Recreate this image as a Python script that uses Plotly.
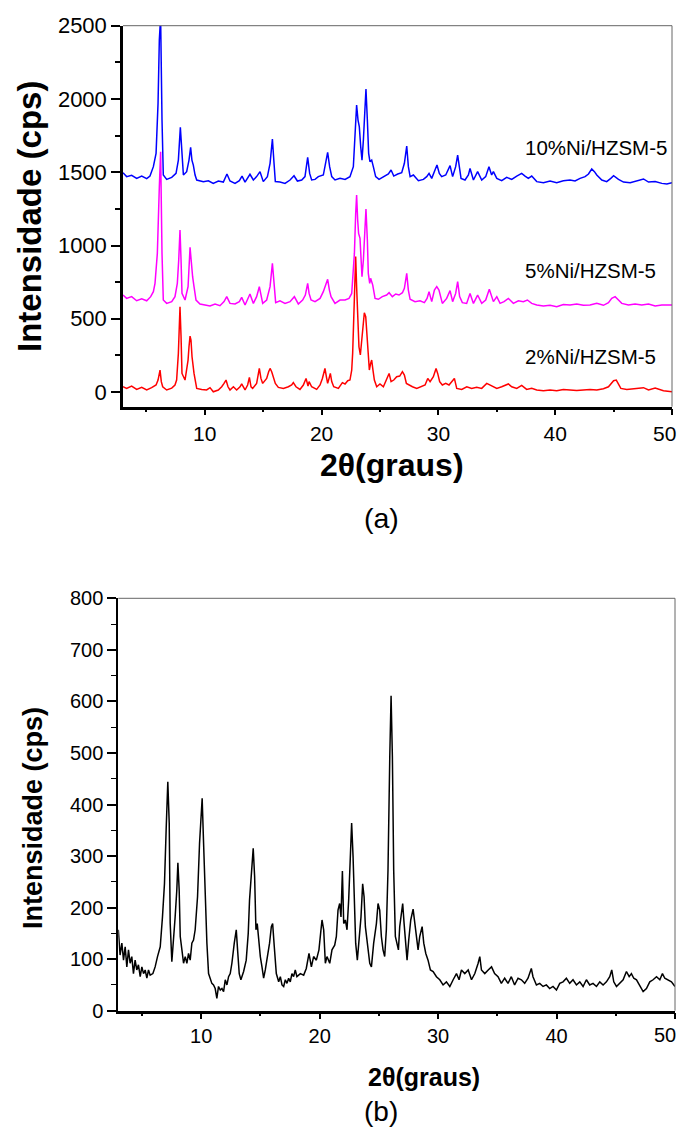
import plotly.graph_objects as go

# page is 686x1139; the HTML body has an 8px margin, so the figure itself is 16px smaller
PAGE_W, PAGE_H = 686, 1139
OFF = 8
W, H = PAGE_W - 2 * OFF, PAGE_H - 2 * OFF
FONT = "Liberation Sans, Arial, sans-serif"

# ---------------- Panel (a) data ----------------
x_10ni = [3.00, 3.31, 3.74, 4.17, 4.60, 5.03, 5.31, 5.60, 5.83, 6.00, 6.11, 6.22, 6.34, 6.45, 6.74, 7.17, 7.54, 7.74,
          7.91, 8.05, 8.17, 8.45, 8.65, 8.79, 8.90, 9.02, 9.17, 9.31, 9.88, 10.31, 10.73, 11.16, 11.59, 11.90, 12.16,
          12.59, 12.96, 13.19, 13.45, 13.87, 14.16, 14.44, 14.73, 15.01, 15.36, 15.59, 15.79, 15.93, 16.04, 16.44,
          16.87, 17.30, 17.64, 17.93, 18.30, 18.58, 18.81, 18.98, 19.15, 19.44, 19.72, 20.15, 20.35, 20.52, 20.69,
          20.87, 21.15, 21.58, 22.01, 22.43, 22.72, 22.86, 23.00, 23.12, 23.23, 23.35, 23.46, 23.58, 23.69, 23.80,
          23.92, 24.03, 24.14, 24.29, 24.43, 24.63, 24.92, 25.29, 25.72, 25.95, 26.18, 26.52, 26.86, 27.09, 27.29,
          27.43, 27.58, 27.86, 28.29, 28.72, 29.00, 29.20, 29.43, 29.71, 29.88, 30.08, 30.28, 30.63, 30.85, 31.00,
          31.22, 31.48, 31.65, 31.80, 31.94, 32.28, 32.57, 32.71, 33.00, 33.36, 33.71, 34.05, 34.33, 34.56, 34.71,
          35.00, 35.42, 35.85, 36.28, 36.71, 37.13, 37.42, 37.70, 37.99, 38.42, 38.99, 39.56, 40.13, 40.70, 41.27,
          41.70, 42.13, 42.56, 42.85, 43.13, 43.36, 43.56, 43.99, 44.41, 44.76, 45.00, 45.42, 45.85, 46.42, 46.99,
          47.56, 47.99, 48.56, 49.13, 49.56, 50.00]
y_10ni = [1497, 1470, 1479, 1458, 1474, 1456, 1474, 1538, 1629, 1970, 2402, 2560, 1856, 1481, 1451, 1465, 1492, 1583,
          1806, 1583, 1481, 1504, 1583, 1670, 1583, 1549, 1481, 1447, 1436, 1442, 1424, 1440, 1433, 1488, 1440,
          1424, 1442, 1474, 1433, 1486, 1447, 1470, 1504, 1436, 1470, 1561, 1727, 1561, 1436, 1433,
          1424, 1447, 1476, 1440, 1447, 1470, 1602, 1492, 1447, 1451, 1470, 1481, 1561, 1636, 1538,
          1470, 1447, 1458, 1451, 1470, 1538, 1788, 1959, 1856, 1811, 1674, 1583, 1720, 1947, 2068,
          1856, 1629, 1572, 1583, 1538, 1470, 1451, 1470, 1488, 1515, 1474, 1488, 1497, 1561, 1679,
          1538, 1470, 1481, 1442, 1451, 1470, 1492, 1458, 1515, 1549, 1492, 1470, 1481, 1526, 1545,
          1470, 1538, 1617, 1515, 1458, 1447, 1481, 1526, 1447, 1504, 1447, 1470, 1538, 1481, 1504,
          1458, 1442, 1465, 1451, 1474, 1492, 1474, 1458, 1474, 1436, 1429, 1440, 1429, 1442, 1447,
          1440, 1458, 1470, 1488, 1522, 1504, 1481, 1447, 1436, 1458, 1476, 1451, 1433, 1429, 1440,
          1454, 1433, 1436, 1424, 1420, 1429]

x_5ni = [3.00, 3.31, 3.74, 4.17, 4.60, 5.03, 5.37, 5.60, 5.74, 5.94, 6.11, 6.22, 6.34, 6.45, 6.74, 7.17, 7.45, 7.65,
         7.77, 7.88, 7.97, 8.05, 8.31, 8.57, 8.74, 8.85, 8.96, 9.08, 9.25, 9.59, 10.02, 10.45, 10.88, 11.30, 11.65,
         11.88, 12.16, 12.59, 12.96, 13.16, 13.45, 13.73, 13.87, 14.16, 14.44, 14.67, 14.96, 15.30, 15.59, 15.79,
         15.93, 16.07, 16.44, 16.87, 17.30, 17.67, 18.01, 18.38, 18.61, 18.81, 18.93, 19.10, 19.44, 19.87, 20.15,
         20.35, 20.52, 20.67, 20.81, 21.15, 21.58, 22.01, 22.35, 22.58, 22.81, 22.92, 23.00, 23.09, 23.17, 23.29,
         23.37, 23.46, 23.58, 23.69, 23.80, 23.92, 24.00, 24.12, 24.20, 24.38, 24.58, 24.86, 25.20, 25.57, 25.78,
         26.06, 26.35, 26.63, 26.92, 27.09, 27.29, 27.43, 27.58, 28.00, 28.43, 28.80, 29.03, 29.20, 29.43, 29.66,
         29.86, 30.05, 30.34, 30.71, 31.00, 31.22, 31.48, 31.65, 31.82, 32.05, 32.42, 32.71, 33.00, 33.36, 33.71,
         34.05, 34.36, 34.71, 35.00, 35.28, 35.62, 35.99, 36.42, 36.85, 37.27, 37.62, 37.99, 38.42, 38.99, 39.56,
         40.13, 40.70, 41.27, 41.84, 42.41, 42.98, 43.56, 44.13, 44.56, 44.84, 45.13, 45.42, 45.70, 46.27, 46.84,
         47.41, 47.99, 48.56, 49.13, 50.00]
y_5ni = [662, 639, 651, 623, 637, 623, 651, 685, 742, 946, 1401, 1640, 946, 628, 605, 617, 651, 742,
         901, 1106, 901, 673, 628, 719, 987, 855, 787, 719, 628, 601, 594, 587, 601, 589, 617,
         651, 605, 601, 617, 646, 594, 639, 669, 605, 651, 719, 605, 628, 719, 878,
         742, 610, 623, 605, 617, 651, 601, 628, 662, 742, 673, 628, 617, 639, 685,
         730, 769, 696, 651, 605, 628, 628, 639, 673, 946, 1219, 1344, 1174, 1083, 1049,
         878, 787, 901, 1128, 1249, 1037, 810, 742, 776, 730, 639, 633, 651, 662, 678,
         651, 669, 662, 678, 708, 810, 696, 633, 617, 623, 610, 639, 685, 617, 696,
         719, 696, 605, 639, 692, 617, 673, 753, 651, 610, 605, 673, 605, 662, 605,
         628, 701, 617, 651, 605, 617, 639, 605, 623, 617, 628, 605, 594, 587, 592,
         582, 598, 594, 601, 592, 594, 605, 592, 610, 639, 651, 628, 605, 594, 601,
         594, 601, 587, 594, 594]

x_2ni = [3.00, 3.31, 3.74, 4.17, 4.60, 5.03, 5.45, 5.83, 6.00, 6.17, 6.28, 6.40, 6.74, 7.17, 7.45, 7.59, 7.74, 7.82,
         7.88, 7.97, 8.05, 8.31, 8.57, 8.65, 8.74, 8.82, 8.91, 9.08, 9.31, 9.74, 10.16, 10.45, 10.73, 11.16, 11.45,
         11.65, 11.82, 11.99, 12.16, 12.45, 12.73, 13.02, 13.16, 13.45, 13.67, 13.82, 13.96, 14.10, 14.44, 14.67,
         14.81, 14.96, 15.30, 15.47, 15.59, 15.73, 15.87, 16.04, 16.30, 16.73, 17.16, 17.44, 17.58, 17.81, 18.15,
         18.44, 18.67, 18.84, 18.93, 19.15, 19.58, 19.87, 20.07, 20.21, 20.29, 20.41, 20.52, 20.64, 20.75, 20.87,
         21.04, 21.44, 21.78, 22.01, 22.24, 22.43, 22.58, 22.66, 22.75, 22.83, 22.92, 23.00, 23.09, 23.20, 23.32,
         23.43, 23.55, 23.66, 23.78, 23.89, 24.00, 24.09, 24.20, 24.29, 24.40, 24.52, 24.72, 25.00, 25.29, 25.57,
         25.78, 25.95, 26.18, 26.43, 26.69, 26.92, 27.09, 27.26, 27.49, 27.78, 28.15, 28.52, 28.86, 29.09, 29.29,
         29.57, 29.80, 29.94, 30.11, 30.34, 30.63, 30.91, 31.19, 31.37, 31.57, 32.00, 32.43, 32.85, 33.28, 33.71,
         34.14, 34.42, 34.79, 35.00, 35.42, 35.71, 35.99, 36.28, 36.71, 37.13, 37.56, 37.99, 38.42, 38.99, 39.56,
         40.13, 40.70, 41.27, 41.84, 42.41, 42.98, 43.56, 44.13, 44.56, 44.79, 45.00, 45.23, 45.42, 45.62, 46.13,
         46.70, 47.13, 47.56, 47.99, 48.56, 49.27, 50.00]
y_2ni = [36, 25, 41, 18, 32, 14, 30, 48, 82, 150, 71, 36, 14, 27, 48, 82, 264, 491,
         582, 378, 127, 82, 218, 309, 382, 355, 241, 127, 25, 18, 14, 30, 2, 14, 36,
         59, 82, 36, 14, 36, 14, 36, 55, 14, 48, 100, 36, 25, 59, 161,
         93, 59, 93, 139, 161, 139, 105, 59, 32, 25, 36, 48, 64, 36, 18,
         48, 93, 41, 71, 36, 18, 48, 93, 139, 161, 105, 59, 93, 127, 71,
         36, 25, 64, 55, 77, 82, 150, 264, 491, 810, 924, 719, 491, 309, 253,
         355, 491, 541, 514, 378, 218, 150, 196, 218, 150, 82, 36, 55, 36, 93,
         127, 71, 82, 105, 109, 139, 116, 59, 48, 36, 25, 36, 48, 93, 71,
         105, 161, 127, 71, 48, 59, 48, 71, 93, 25, 18, 36, 25, 32, 25,
         59, 48, 36, 25, 36, 48, 55, 36, 25, 45, 18, 25, 14, 9, 14,
         9, 18, 14, 11, 14, 18, 14, 23, 36, 59, 77, 82, 55, 25, 18,
         23, 25, 30, 14, 27, 9, 2]

labels_a = ["10%Ni/HZSM-5", "5%Ni/HZSM-5", "2%Ni/HZSM-5"]

# ---------------- Panel (b) data ----------------
x_b = [3.00, 3.15, 3.30, 3.44, 3.58, 3.72, 3.86, 4.00, 4.14, 4.28, 4.42, 4.56, 4.70, 4.85, 4.99, 5.13, 5.27, 5.41,
       5.55, 5.69, 5.92, 6.11, 6.31, 6.54, 6.73, 6.90, 7.04, 7.18, 7.30, 7.38, 7.52, 7.66, 7.80, 7.94, 8.03, 8.14,
       8.23, 8.37, 8.51, 8.65, 8.79, 8.93, 9.07, 9.21, 9.35, 9.49, 9.69, 9.86, 9.97, 10.08, 10.20, 10.34, 10.48,
       10.62, 10.76, 10.90, 11.04, 11.18, 11.32, 11.46, 11.61, 11.75, 11.89, 12.03, 12.17, 12.31, 12.45, 12.59,
       12.79, 12.96, 13.07, 13.21, 13.35, 13.58, 13.80, 13.97, 14.08, 14.20, 14.31, 14.39, 14.51, 14.62, 14.73,
       14.85, 14.99, 15.13, 15.27, 15.41, 15.55, 15.77, 15.92, 16.03, 16.17, 16.34, 16.54, 16.68, 16.82, 16.96,
       17.10, 17.24, 17.38, 17.52, 17.66, 17.80, 17.94, 18.08, 18.37, 18.65, 18.87, 19.10, 19.30, 19.49, 19.72,
       19.94, 20.08, 20.20, 20.34, 20.48, 20.62, 20.85, 21.04, 21.27, 21.41, 21.55, 21.69, 21.80, 21.92, 22.03,
       22.17, 22.31, 22.45, 22.59, 22.70, 22.82, 22.93, 23.04, 23.18, 23.32, 23.49, 23.63, 23.75, 23.86, 24.03,
       24.23, 24.37, 24.56, 24.79, 24.93, 25.07, 25.21, 25.35, 25.49, 25.63, 25.77, 25.92, 26.03, 26.14, 26.25,
       26.39, 26.54, 26.65, 26.76, 26.90, 27.01, 27.13, 27.27, 27.38, 27.52, 27.69, 27.89, 28.03, 28.17, 28.31,
       28.45, 28.65, 28.79, 28.96, 29.15, 29.35, 29.58, 29.86, 30.14, 30.42, 30.70, 30.99, 31.27, 31.55, 31.77,
       31.97, 32.25, 32.54, 32.82, 33.10, 33.38, 33.52, 33.66, 33.94, 34.23, 34.51, 34.77, 35.06, 35.34, 35.62,
       35.90, 36.18, 36.46, 36.75, 37.03, 37.31, 37.59, 37.87, 38.01, 38.30, 38.58, 38.86, 39.14, 39.42, 39.70,
       39.99, 40.27, 40.55, 40.83, 41.11, 41.39, 41.68, 41.96, 42.24, 42.52, 42.80, 43.08, 43.37, 43.65, 43.93,
       44.21, 44.49, 44.66, 44.83, 45.06, 45.34, 45.62, 45.90, 46.13, 46.32, 46.52, 46.75, 47.03, 47.31, 47.59,
       47.87, 48.15, 48.44, 48.72, 48.94, 49.14, 49.42, 49.70, 50.00]
y_b = [157, 108, 131, 98, 124, 85, 118, 92, 105, 72, 98, 79, 89, 66, 85, 72, 79, 63,
       79, 69, 72, 85, 105, 124, 182, 247, 351, 444, 364, 170, 95, 131, 182, 234, 287, 234,
       144, 118, 92, 105, 92, 111, 98, 131, 137, 157, 221, 325, 376, 412, 325, 215, 131,
       72, 63, 53, 50, 43, 24, 47, 40, 43, 37, 60, 50, 66, 72, 92,
       131, 157, 118, 72, 60, 76, 98, 150, 215, 260, 299, 315, 260, 157, 169,
       137, 105, 85, 63, 79, 98, 131, 163, 169, 124, 72, 56, 66, 50, 47,
       60, 53, 63, 56, 72, 66, 79, 66, 72, 69, 82, 111, 85, 105, 98,
       118, 150, 176, 157, 92, 105, 92, 118, 127, 144, 195, 208, 182, 271, 169,
       176, 157, 215, 299, 364, 299, 202, 131, 98, 131, 182, 246, 221, 163, 131,
       92, 85, 131, 169, 208, 195, 144, 118, 105, 157, 273, 493, 611, 493, 273,
       144, 131, 118, 163, 195, 208, 169, 118, 98, 137, 176, 197, 169, 137, 118,
       144, 163, 131, 111, 98, 79, 76, 66, 60, 50, 56, 47, 60, 72, 60,
       79, 72, 79, 60, 72, 92, 105, 79, 72, 79, 85, 72, 66, 53, 63,
       53, 66, 50, 63, 60, 53, 63, 82, 66, 50, 53, 47, 50, 43, 47,
       40, 53, 56, 63, 53, 60, 50, 56, 47, 60, 50, 53, 47, 56, 50,
       56, 66, 79, 56, 47, 53, 60, 76, 66, 72, 63, 60, 47, 37, 43,
       56, 60, 66, 60, 72, 63, 60, 56, 47]

x_ticks = [10, 20, 30, 40, 50]
y_ticks_a = [0, 500, 1000, 1500, 2000, 2500]
y_ticks_b = [0, 100, 200, 300, 400, 500, 600, 700, 800]


def px(xp):
    """screen x pixel -> paper fraction"""
    return (xp - OFF) / W


def py(yp):
    """screen y pixel -> paper fraction"""
    return 1 - (yp - OFF) / H


fig = go.Figure()
fig.add_trace(go.Scatter(x=x_2ni, y=y_2ni, mode="lines", line=dict(color="#FF0000", width=1.5),
                         xaxis="x", yaxis="y", showlegend=False))
fig.add_trace(go.Scatter(x=x_5ni, y=y_5ni, mode="lines", line=dict(color="#FF00FF", width=1.5),
                         xaxis="x", yaxis="y", showlegend=False))
fig.add_trace(go.Scatter(x=x_10ni, y=y_10ni, mode="lines", line=dict(color="#0000FF", width=1.5),
                         xaxis="x", yaxis="y", showlegend=False))
fig.add_trace(go.Scatter(x=x_b, y=y_b, mode="lines", line=dict(color="#000000", width=1.5),
                         xaxis="x2", yaxis="y2", showlegend=False))

# the last x tick label ("50") would be cut by the page edge: draw it as a right-aligned annotation
x_ticktext = [str(v) for v in x_ticks[:-1]] + [""]

common_x = dict(showgrid=False, zeroline=False, showline=True, linecolor="black", linewidth=2.5,
                ticks="outside", tickcolor="black", tickwidth=2, ticklen=6, automargin=False,
                tickvals=x_ticks, ticktext=x_ticktext,
                minor=dict(dtick=5, tick0=0, ticks="outside", ticklen=3, tickwidth=1.5, tickcolor="black",
                           showgrid=False))

fig.update_layout(
    width=W, height=H, margin=dict(l=0, r=0, t=0, b=0),
    paper_bgcolor="white", plot_bgcolor="white",
    font=dict(family=FONT, color="black"),
    xaxis=dict(common_x, domain=[px(123), px(672)], range=[3, 50], anchor="y",
               tickfont=dict(size=21, family=FONT, color="black")),
    yaxis=dict(domain=[py(406.7), py(25.7)], range=[-100, 2500], anchor="x", automargin=False,
               showgrid=False, zeroline=False, showline=True, linecolor="black", linewidth=2.5,
               ticks="outside", tickcolor="black", tickwidth=2, ticklen=9,
               tickvals=y_ticks_a, ticktext=[str(v) for v in y_ticks_a],
               minor=dict(dtick=250, tick0=0, ticks="outside", ticklen=5, tickwidth=1.5, tickcolor="black",
                          showgrid=False),
               tickfont=dict(size=22, family=FONT, color="black")),
    xaxis2=dict(common_x, domain=[px(118.3), px(675)], range=[3, 50], anchor="y2",
                tickfont=dict(size=20, family=FONT, color="black")),
    yaxis2=dict(domain=[py(1010.7), py(598.3)], range=[0, 800], anchor="x2", automargin=False,
                showgrid=False, zeroline=False, showline=True, linecolor="black", linewidth=2,
                ticks="outside", tickcolor="black", tickwidth=1.5, ticklen=9,
                tickvals=y_ticks_b, ticktext=[str(v) for v in y_ticks_b],
                minor=dict(dtick=50, tick0=0, ticks="outside", ticklen=5, tickwidth=1.2, tickcolor="black",
                           showgrid=False),
                tickfont=dict(size=20, family=FONT, color="black")),
)

# thin frame lines (top & right)
for xr, yr in (("x", "y"), ("x2", "y2")):
    fig.add_shape(type="line", xref=f"{xr} domain", yref=f"{yr} domain", x0=0, x1=1, y0=1, y1=1,
                  line=dict(color="#666666", width=1))
    fig.add_shape(type="line", xref=f"{xr} domain", yref=f"{yr} domain", x0=1, x1=1, y0=0, y1=1,
                  line=dict(color="#666666", width=1))

ann = []
# panel (a)
ann.append(dict(x=px(29), y=py(217), text="<b>Intensidade (cps)</b>", textangle=-90,
                font=dict(size=33, family=FONT, color="black")))
ann.append(dict(x=px(392), y=py(465), text="<b>2θ(graus)</b>", font=dict(size=32, family=FONT, color="black")))
ann.append(dict(x=px(381), y=py(518), text="(a)", font=dict(size=28.5, family=FONT, color="black")))
for lbl, yc in zip(labels_a, (147, 271, 356)):
    ann.append(dict(x=px(523), y=py(yc), text=lbl, xanchor="left",
                    font=dict(size=20.5, family=FONT, color="black")))
ann.append(dict(x=1.0, y=py(433), text=str(x_ticks[-1]), xanchor="right",
                font=dict(size=21, family=FONT, color="black")))
# panel (b)
ann.append(dict(x=px(33), y=py(818), text="<b>Intensidade (cps)</b>", textangle=-90,
                font=dict(size=27, family=FONT, color="black")))
ann.append(dict(x=px(424), y=py(1077), text="<b>2θ(graus)</b>", font=dict(size=25, family=FONT, color="black")))
ann.append(dict(x=px(381), y=py(1111), text="(b)", font=dict(size=28, family=FONT, color="black")))
ann.append(dict(x=1.0, y=py(1035), text=str(x_ticks[-1]), xanchor="right",
                font=dict(size=20, family=FONT, color="black")))

for a in ann:
    a.setdefault("xanchor", "center")
    a.update(xref="paper", yref="paper", yanchor="middle", showarrow=False)
    fig.add_annotation(**a)

fig.write_html("out.html")
